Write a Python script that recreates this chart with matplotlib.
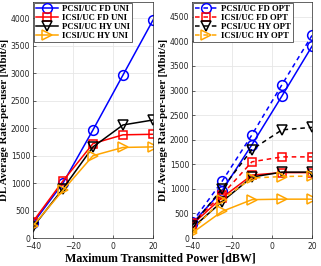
import numpy as np
import matplotlib
matplotlib.use("Agg")
import matplotlib.pyplot as plt

# transmit power grid [dBW]
power = [-40, -25, -10, 5, 20]

# left panel: uniform power allocation
pcsi_fd_uni = [270, 1000, 1970, 2970, 3970]
icsi_fd_uni = [300, 1040, 1720, 1880, 1890]
pcsi_hy_uni = [200, 900, 1660, 2060, 2150]
icsi_hy_uni = [220, 870, 1500, 1650, 1660]

# right panel: optimized (dashed) vs uniform (solid)
pcsi_fd_opt = [320, 1150, 2100, 3120, 4120]
icsi_fd_opt = [300, 880, 1550, 1650, 1650]
pcsi_hy_opt = [250, 1000, 1800, 2200, 2250]
icsi_hy_opt = [150, 780, 1220, 1250, 1260]
pcsi_fd_uni_r = [290, 960, 1900, 2890, 3900]
icsi_fd_uni_r = [270, 820, 1280, 1330, 1330]
pcsi_hy_uni_r = [200, 740, 1240, 1340, 1340]
icsi_hy_uni_r = [100, 540, 780, 790, 790]

names = ["PCSI/UC FD", "ICSI/UC FD", "PCSI/UC HY", "ICSI/UC HY"]
colors = ["#0000ff", "#ff0000", "#000000", "#ffa500"]
markers = ["o", "s", "v", ">"]
msizes = [7, 5.5, 6.5, 7]

serif = "Liberation Serif"

fig = plt.figure(figsize=(3.21, 2.66), dpi=100)
W, H = 321.0, 266.0
ax1 = fig.add_axes([33 / W, 28 / H, 120 / W, 236 / H])
ax2 = fig.add_axes([192 / W, 28 / H, 120 / W, 236 / H])


def style(ax, ytop):
    ax.set_xlim(-40, 20)
    ax.set_ylim(0, ytop)
    ax.set_xticks([-40, -20, 0, 20])
    ax.set_yticks(np.arange(0, ytop, 500))
    ax.grid(True, color="#e6e6e6", linewidth=0.6)
    ax.set_axisbelow(True)
    ax.tick_params(direction="in", length=2, labelsize=5.5, colors="#262626",
                   width=0.5)
    ax.tick_params(axis="x", pad=3)
    ax.tick_params(axis="y", pad=2)
    for s in ax.spines.values():
        s.set_color("#262626")
        s.set_linewidth(0.5)
    ax.set_ylabel("DL Average Rate-per-user [Mbit/s]", family=serif,
                  fontweight="bold", fontsize=7.8, labelpad=1.5)


left = [pcsi_fd_uni, icsi_fd_uni, pcsi_hy_uni, icsi_hy_uni]
for i in range(4):
    ax1.plot(power, left[i], color=colors[i], marker=markers[i], ms=msizes[i],
             mfc="none", mew=1.1, lw=1.1, label=names[i] + " UNI")
style(ax1, 4300)

right_uni = [pcsi_fd_uni_r, icsi_fd_uni_r, pcsi_hy_uni_r, icsi_hy_uni_r]
right_opt = [pcsi_fd_opt, icsi_fd_opt, pcsi_hy_opt, icsi_hy_opt]
for i in range(4):
    ax2.plot(power, right_uni[i], color=colors[i], marker=markers[i], ms=msizes[i],
             mfc="none", mew=1.1, lw=1.1)
for i in range(4):
    ax2.plot(power, right_opt[i], color=colors[i], marker=markers[i], ms=msizes[i],
             mfc="none", mew=1.1, lw=1.1, ls=(0, (3, 2.5)), label=names[i] + " OPT")
style(ax2, 4800)

for ax in (ax1, ax2):
    leg = ax.legend(loc="upper left", prop={"family": serif, "weight": "bold", "size": 6.3},
                    borderaxespad=0.1, handlelength=2.6, labelspacing=0.1,
                    borderpad=0.2, handletextpad=0.4, fancybox=False, framealpha=1)
    leg.get_frame().set_edgecolor("#262626")
    leg.get_frame().set_linewidth(0.5)

fig.text(0.5, 1.5 / H, "Maximum Transmitted Power [dBW]", ha="center", va="bottom",
         family=serif, fontweight="bold", fontsize=8.6)

fig.savefig("out.png", dpi=100)
